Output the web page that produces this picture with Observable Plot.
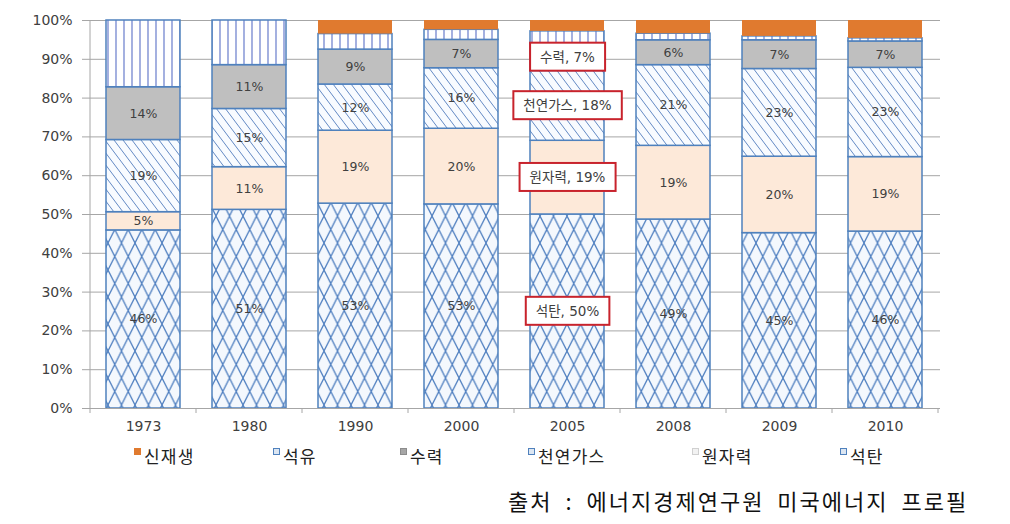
<!DOCTYPE html>
<html><head><meta charset="utf-8">
<script src="https://cdn.jsdelivr.net/npm/d3@7"></script>
<script src="https://cdn.jsdelivr.net/npm/@observablehq/plot@0.6"></script>
<style>
body{margin:0;background:#fff;}
#wrap{position:relative;width:1010px;height:524px;overflow:hidden;font-family:"Noto Sans CJK KR","DejaVu Sans",sans-serif;}
#chart{position:absolute;left:0;top:0;}
#legend{position:absolute;left:0;top:445px;width:1010px;height:24px;}
.item{position:absolute;top:0;display:flex;align-items:flex-start;font-size:17px;letter-spacing:1.2px;color:#222;line-height:21px;white-space:nowrap;}
.item:nth-child(1){left:134px}.item:nth-child(2){left:273px}.item:nth-child(3){left:400px}
.item:nth-child(4){left:528px}.item:nth-child(5){left:692px}.item:nth-child(6){left:840px}
.sw{width:7px;height:7px;margin:3px 3px 0 0;box-sizing:border-box;}
#caption{position:absolute;left:508px;top:484px;font-size:22px;letter-spacing:2px;word-spacing:6px;color:#111;white-space:nowrap;}
</style></head>
<body>
<svg width="0" height="0" style="position:absolute">
<defs>
<pattern id="pCoal" patternUnits="userSpaceOnUse" width="13.5" height="27">
  <rect width="13.5" height="27" fill="#f4f8fd"/>
  <path d="M0,0L13.5,27M13.5,0L0,27M-13.5,-27L0,0M13.5,27L27,54M27,-27L13.5,0M0,27L-13.5,54" stroke="#4f7fc0" stroke-width="1.25" fill="none"/>
</pattern>
<pattern id="pGas" patternUnits="userSpaceOnUse" width="9" height="12">
  <rect width="9" height="12" fill="#f8fbff"/>
  <path d="M-9,-12L18,24M0,-12L27,24M-18,-12L9,24" stroke="#6389c4" stroke-width="1" fill="none"/>
</pattern>
<pattern id="pOil" patternUnits="userSpaceOnUse" width="8" height="10">
  <rect width="8" height="10" fill="#ffffff"/>
  <path d="M4,-1L4,11" stroke="#7486d0" stroke-width="1.3" fill="none"/>
</pattern>
</defs>
</svg>
<div id="wrap">
  <div id="chart"></div>
  <div id="legend"></div>
  <div id="caption"></div>
</div>
<script>
// ---- data ----
const years = ["1973","1980","1990","2000","2005","2008","2009","2010"];
const coal      = [45.9, 51.2, 52.8, 52.6, 50.0, 48.7, 45.2, 45.6];
const nuclear   = [ 4.7, 11.0, 18.8, 19.5, 19.0, 19.0, 19.7, 19.2];
const gas       = [18.6, 15.0, 11.9, 15.6, 18.0, 20.8, 22.6, 23.0];
const hydro     = [13.6, 11.3,  9.0,  7.3,  7.0,  6.4,  7.4,  6.8];
const oil       = [17.2, 11.5,  4.0,  2.6,  3.2,  1.7,  1.0,  0.8];
const renewable = [ 0.0,  0.0,  3.5,  2.4,  2.8,  3.4,  4.1,  4.6];
const stackOrder = ["석탄","원자력","천연가스","수력","석유","신재생"];   // bottom -> top
const legendOrder = ["신재생","석유","수력","천연가스","원자력","석탄"];
const labeledSeries = ["석탄","원자력","천연가스","수력"];
const boxedYear = "2005";
const yTicks = [0,10,20,30,40,50,60,70,80,90,100];
const captionText = "출처 : 에너지경제연구원 미국에너지 프로필";

const valuesBySeries = {"석탄":coal,"원자력":nuclear,"천연가스":gas,"수력":hydro,"석유":oil,"신재생":renewable};
const rows = years.flatMap((year,i)=>stackOrder.map(s=>({year, series:s, value:valuesBySeries[s][i]})));

// ---- styles ----
const fills = {"석탄":"url(#pCoal)","원자력":"#fde9d9","천연가스":"url(#pGas)","수력":"#bfbfbf","석유":"url(#pOil)","신재생":"#e07a2f"};
const strokes = {"석탄":"#4f81bd","원자력":"#4f81bd","천연가스":"#4f81bd","수력":"#4f81bd","석유":"#4f81bd","신재생":"none"};
const swatch = {
  "신재생":"background:#e07a2f;",
  "석유":"background:#dce6f2;border:1px solid #4f81bd;",
  "수력":"background:#a6a6a6;border:1px solid #8c8c8c;",
  "천연가스":"background:#dce6f2;border:1px solid #4f81bd;",
  "원자력":"background:#f2f2f2;border:1px solid #d0d0d0;",
  "석탄":"background:#dce6f2;border:1px solid #4f81bd;"
};

const stackOpts = {x:"year", y:"value", z:"series", order:stackOrder};

const chart = Plot.plot({
  width:1010, height:440,
  marginTop:20, marginBottom:32, marginLeft:88, marginRight:70,
  style:{fontFamily:"'DejaVu Sans','Noto Sans CJK KR',sans-serif", fontSize:"14px", color:"#404040", background:"transparent"},
  x:{domain:years, paddingInner:0.3, paddingOuter:0.15, label:null},
  y:{domain:[0,100], label:null},
  color:{type:"identity"},
  marks:[
    Plot.gridY(yTicks, {stroke:"#a6a6a6", strokeOpacity:1}),
    Plot.barY(rows, Plot.stackY({...stackOpts, fill:d=>fills[d.series], stroke:d=>strokes[d.series], strokeWidth:1.5})),
    Plot.text(rows, Plot.stackY({...stackOpts,
      text:d=>labeledSeries.includes(d.series) && d.year!==boxedYear ? Math.round(d.value)+"%" : null,
      fontSize:12.5, fill:"#404040"})),
    Plot.text(rows, Plot.stackY({...stackOpts,
      text:d=>labeledSeries.includes(d.series) && d.year===boxedYear ? `${d.series}, ${Math.round(d.value)}%` : null,
      fontSize:13.5, fill:"#404040"})),
    Plot.ruleY([0], {stroke:"#a6a6a6"}),
    Plot.axisX({tickSize:0, tickPadding:13, fontSize:14, label:null}),
    Plot.axisY(yTicks, {tickFormat:d=>d+"%", tickSize:6, tickPadding:10, stroke:"#a6a6a6", fontSize:14, label:null})
  ]
});
document.getElementById("chart").appendChild(chart);

// axis line & category separators derived from the scales
const xs = chart.scale("x"), ys = chart.scale("y");
const svg = d3.select(chart);
const g = svg.append("g").attr("stroke","#a6a6a6").attr("stroke-width",1);
const x0 = xs.apply(years[0]), step = xs.apply(years[1]) - x0, gap = step - xs.bandwidth;
const bounds = years.map(y=>xs.apply(y) - gap/2).concat([xs.apply(years[years.length-1]) + xs.bandwidth + gap/2]);
g.append("line").attr("x1",bounds[0]).attr("x2",bounds[0]).attr("y1",ys.apply(0)).attr("y2",ys.apply(100));
bounds.forEach(b=>g.append("line").attr("x1",b).attr("x2",b).attr("y1",ys.apply(0)).attr("y2",ys.apply(0)+5));

// boxed labels for the highlighted year
svg.selectAll("text").filter(function(){return this.textContent.includes(", ");}).each(function(){
  const bb = this.getBBox();
  const r = document.createElementNS("http://www.w3.org/2000/svg","rect");
  const padX = 10, padY = 6;
  r.setAttribute("x", bb.x - padX); r.setAttribute("y", bb.y - padY);
  r.setAttribute("width", bb.width + 2*padX); r.setAttribute("height", bb.height + 2*padY);
  r.setAttribute("fill","#ffffff"); r.setAttribute("stroke","#c8232c"); r.setAttribute("stroke-width","2");
  const t = this.getAttribute("transform"); if (t) r.setAttribute("transform", t);
  this.parentNode.insertBefore(r, this);
});

// legend
const legend = d3.select("#legend");
legendOrder.forEach(s=>{
  const it = legend.append("div").attr("class","item");
  it.append("div").attr("class","sw").attr("style", swatch[s]);
  it.append("span").text(s);
});
document.getElementById("caption").textContent = captionText;
</script>
</body></html>
